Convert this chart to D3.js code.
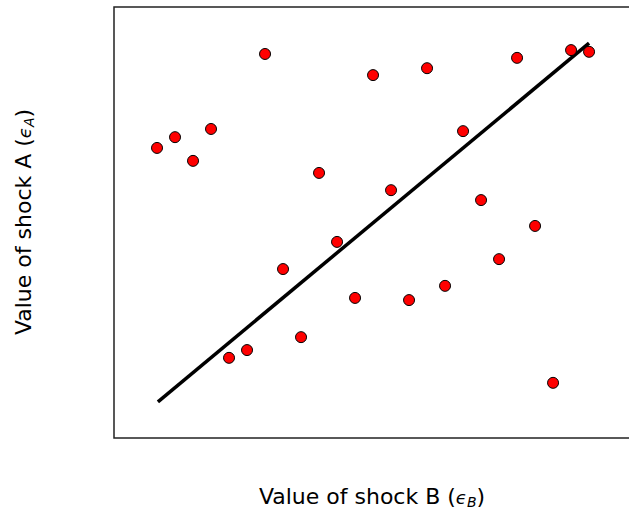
<!DOCTYPE html>
<meta charset="utf-8">
<script src="https://d3js.org/d3.v7.min.js"></script>
<style>
  body { margin: 0; background: #fff; }
  text { font-family: "DejaVu Sans", sans-serif; }
</style>
<div id="viz"></div>
<script>
// shock B values (x) and shock A values (y)
var shockB = [1, 2, 3, 4, 5, 6, 7, 8, 9, 10, 11, 12, 13, 14, 15, 16, 17, 18, 19, 20, 21, 22, 23, 24, 25];
var shockA = [67.3, 69.8, 64.3, 71.7, 18.6, 20.4, 89.1, 39.2, 23.4, 61.5, 45.5, 32.5, 84.2,
              57.5, 32.0, 85.8, 35.3, 71.2, 55.2, 41.5, 88.2, 49.2, 12.8, 90.0, 89.6];
// fitted line end points
var lineB = [1.05, 25];
var lineA = [8.4, 91.6];

var width = 629, height = 511;
var margin = {top: 7, right: -11, bottom: 73, left: 114};

var svg = d3.select("#viz")
  .append("svg")
    .attr("width", width)
    .attr("height", height);

var x = d3.scaleLinear()
  .domain([-1.39, 27.83])
  .range([margin.left, width - margin.right]);

var y = d3.scaleLinear()
  .domain([0, 100])
  .range([height - margin.bottom, margin.top]);

// frame
svg.append("rect")
  .attr("x", x.range()[0])
  .attr("y", margin.top)
  .attr("width", x.range()[1] - x.range()[0])
  .attr("height", height - margin.bottom - margin.top)
  .attr("fill", "none")
  .attr("stroke", "#222")
  .attr("stroke-width", 1.5);

svg.append("line")
  .attr("x1", x(lineB[0])).attr("y1", y(lineA[0]))
  .attr("x2", x(lineB[1])).attr("y2", y(lineA[1]))
  .attr("stroke", "#000")
  .attr("stroke-width", 3.5);

svg.selectAll(".dot")
  .data(shockB)
  .enter()
  .append("circle")
    .attr("class", "dot")
    .attr("cx", function(d) { return x(d); })
    .attr("cy", function(d, i) { return y(shockA[i]); })
    .attr("r", 5.5)
    .attr("fill", "#ff0000")
    .attr("stroke", "#000")
    .attr("stroke-width", 1);

// axis labels
var xl = svg.append("text")
  .attr("x", 372)
  .attr("y", 504)
  .attr("text-anchor", "middle")
  .attr("font-size", 22)
  .attr("fill", "#000");
xl.append("tspan").text("Value of shock B (");
xl.append("tspan").attr("font-style", "italic").attr("font-size", 18).text("\u03f5");
xl.append("tspan").attr("font-style", "italic").attr("font-size", 14).attr("dy", 3).text("B");
xl.append("tspan").attr("dy", -3).text(")");

var yl = svg.append("text")
  .attr("transform", "translate(31,222) rotate(-90)")
  .attr("text-anchor", "middle")
  .attr("font-size", 22)
  .attr("fill", "#000");
yl.append("tspan").text("Value of shock A (");
yl.append("tspan").attr("font-style", "italic").attr("font-size", 18).text("\u03f5");
yl.append("tspan").attr("font-style", "italic").attr("font-size", 14).attr("dy", 3).text("A");
yl.append("tspan").attr("dy", -3).text(")");
</script>
